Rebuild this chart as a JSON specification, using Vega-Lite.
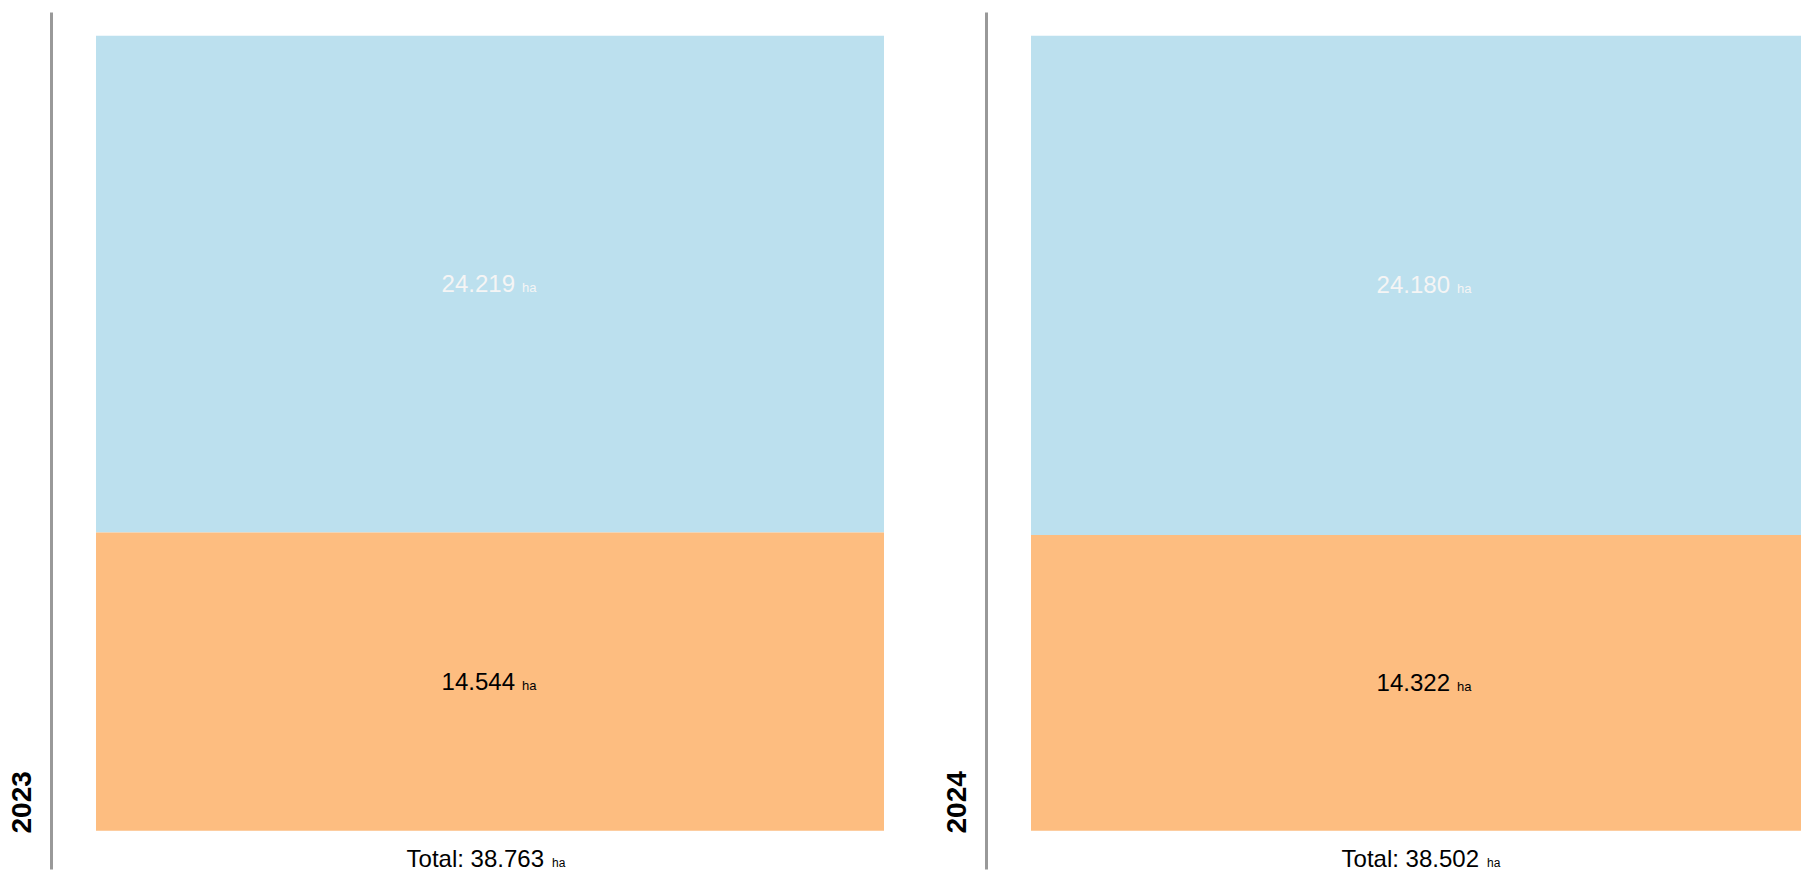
{
  "$schema": "https://vega.github.io/schema/vega-lite/v6.json",
  "padding": {"left": 8, "top": 12, "right": 0, "bottom": 4},
  "config": {"view": {"stroke": null}, "font": "Liberation Sans", "text": {"font": "Liberation Sans"}},
  "datasets": {
    "areas": [
      {"year": "2023", "category": "A", "value": 24.219},
      {"year": "2023", "category": "B", "value": 14.544},
      {"year": "2024", "category": "A", "value": 24.180},
      {"year": "2024", "category": "B", "value": 14.322}
    ]
  },
  "spacing": 59,
  "hconcat": [
    {
      "width": 788,
      "height": 857,
      "data": {"name": "areas"},
      "transform": [{"filter": "datum.year === '2023'"}],
      "encoding": {
        "x": {"field": "year", "type": "nominal", "axis": null, "scale": {"paddingInner": 0, "paddingOuter": 0}}
      },
      "layer": [
        {
          "mark": {"type": "bar"},
          "encoding": {
            "y": {"field": "value", "type": "quantitative", "stack": "normalize", "title": "2023",
              "scale": {"domain": [-0.048, 1.03], "nice": false, "zero": false},
              "axis": {"labels": false, "ticks": false, "grid": false, "domainColor": "#999999", "domainWidth": 3, "offset": 45,
                "titleFontSize": 28, "titleFontWeight": "bold", "titleColor": "black", "titleFont": "Liberation Sans",
                "titleAlign": "left", "titleY": 821, "titlePadding": 15}},
            "color": {"field": "category", "type": "nominal", "scale": {"domain": ["A", "B"], "range": ["#BCE0EE", "#FDBD80"]}, "legend": null},
            "order": {"field": "category", "sort": "descending"}
          }
        },
        {
          "mark": {"type": "text", "align": "right", "baseline": "alphabetic", "dx": 25, "dy": 8, "fontSize": 24},
          "encoding": {
            "y": {"field": "value", "type": "quantitative", "stack": "normalize", "bandPosition": 0.5, "title": "2023"},
            "detail": {"field": "category"},
            "order": {"field": "category", "sort": "descending"},
            "text": {"field": "value", "type": "quantitative", "format": ".3f"},
            "color": {"condition": {"test": "datum.category === 'A'", "value": "#f5f5f5"}, "value": "black"}
          }
        },
        {
          "mark": {"type": "text", "align": "left", "baseline": "alphabetic", "dx": 32, "dy": 8, "fontSize": 13, "text": "ha"},
          "encoding": {
            "y": {"field": "value", "type": "quantitative", "stack": "normalize", "bandPosition": 0.5, "title": "2023"},
            "detail": {"field": "category"},
            "order": {"field": "category", "sort": "descending"},
            "color": {"condition": {"test": "datum.category === 'A'", "value": "#f5f5f5"}, "value": "black"}
          }
        },
        {
          "transform": [
            {"aggregate": [{"op": "sum", "field": "value", "as": "total"}], "groupby": ["year"]},
            {"calculate": "'Total: ' + format(datum.total, '.3f')", "as": "label"}
          ],
          "mark": {"type": "text", "align": "right", "baseline": "alphabetic", "dx": 54, "fontSize": 24, "color": "black"},
          "encoding": {
            "y": {"datum": -0.045, "type": "quantitative"},
            "text": {"field": "label", "type": "nominal"}
          }
        },
        {
          "transform": [
            {"aggregate": [{"op": "sum", "field": "value", "as": "total"}], "groupby": ["year"]}
          ],
          "mark": {"type": "text", "align": "left", "baseline": "alphabetic", "dx": 62, "fontSize": 12, "color": "black", "text": "ha"},
          "encoding": {
            "y": {"datum": -0.045, "type": "quantitative"}
          }
        }
      ]
    },
    {
      "width": 788,
      "height": 857,
      "data": {"name": "areas"},
      "transform": [{"filter": "datum.year === '2024'"}],
      "encoding": {
        "x": {"field": "year", "type": "nominal", "axis": null, "scale": {"paddingInner": 0, "paddingOuter": 0}}
      },
      "layer": [
        {
          "mark": {"type": "bar"},
          "encoding": {
            "y": {"field": "value", "type": "quantitative", "stack": "normalize", "title": "2024",
              "scale": {"domain": [-0.048, 1.03], "nice": false, "zero": false},
              "axis": {"labels": false, "ticks": false, "grid": false, "domainColor": "#999999", "domainWidth": 3, "offset": 45,
                "titleFontSize": 28, "titleFontWeight": "bold", "titleColor": "black", "titleFont": "Liberation Sans",
                "titleAlign": "left", "titleY": 821, "titlePadding": 15}},
            "color": {"field": "category", "type": "nominal", "scale": {"domain": ["A", "B"], "range": ["#BCE0EE", "#FDBD80"]}, "legend": null},
            "order": {"field": "category", "sort": "descending"}
          }
        },
        {
          "mark": {"type": "text", "align": "right", "baseline": "alphabetic", "dx": 25, "dy": 8, "fontSize": 24},
          "encoding": {
            "y": {"field": "value", "type": "quantitative", "stack": "normalize", "bandPosition": 0.5, "title": "2024"},
            "detail": {"field": "category"},
            "order": {"field": "category", "sort": "descending"},
            "text": {"field": "value", "type": "quantitative", "format": ".3f"},
            "color": {"condition": {"test": "datum.category === 'A'", "value": "#f5f5f5"}, "value": "black"}
          }
        },
        {
          "mark": {"type": "text", "align": "left", "baseline": "alphabetic", "dx": 32, "dy": 8, "fontSize": 13, "text": "ha"},
          "encoding": {
            "y": {"field": "value", "type": "quantitative", "stack": "normalize", "bandPosition": 0.5, "title": "2024"},
            "detail": {"field": "category"},
            "order": {"field": "category", "sort": "descending"},
            "color": {"condition": {"test": "datum.category === 'A'", "value": "#f5f5f5"}, "value": "black"}
          }
        },
        {
          "transform": [
            {"aggregate": [{"op": "sum", "field": "value", "as": "total"}], "groupby": ["year"]},
            {"calculate": "'Total: ' + format(datum.total, '.3f')", "as": "label"}
          ],
          "mark": {"type": "text", "align": "right", "baseline": "alphabetic", "dx": 54, "fontSize": 24, "color": "black"},
          "encoding": {
            "y": {"datum": -0.045, "type": "quantitative"},
            "text": {"field": "label", "type": "nominal"}
          }
        },
        {
          "transform": [
            {"aggregate": [{"op": "sum", "field": "value", "as": "total"}], "groupby": ["year"]}
          ],
          "mark": {"type": "text", "align": "left", "baseline": "alphabetic", "dx": 62, "fontSize": 12, "color": "black", "text": "ha"},
          "encoding": {
            "y": {"datum": -0.045, "type": "quantitative"}
          }
        }
      ]
    }
  ]
}
